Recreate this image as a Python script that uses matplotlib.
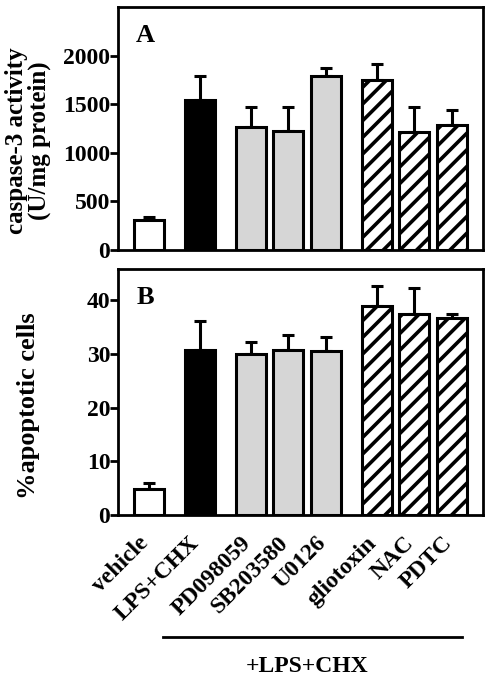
import numpy as np
import matplotlib
matplotlib.use("Agg")
import matplotlib.pyplot as plt
import matplotlib.transforms as mtransforms
from matplotlib.lines import Line2D

plt.rcParams['font.family'] = ['Liberation Serif', 'DejaVu Serif']
plt.rcParams['font.weight'] = 'bold'
plt.rcParams['hatch.linewidth'] = 2.6

# data
labels = ['vehicle', 'LPS+CHX', 'PD098059', 'SB203580', 'U0126',
          'gliotoxin', 'NAC', 'PDTC']
caspase = [310, 1545, 1270, 1225, 1785, 1752, 1212, 1290]
caspase_err = [30, 240, 200, 245, 85, 165, 258, 153]
apoptotic = [4.85, 30.8, 29.95, 30.8, 30.5, 38.9, 37.4, 36.65]
apoptotic_err = [1.05, 5.3, 2.3, 2.75, 2.7, 3.8, 4.8, 0.85]
group_label = '+LPS+CHX'

# bar group positions (three groups with wider gaps between)
xpos = np.array([0, 1.35, 2.72, 3.71, 4.72, 6.07, 7.07, 8.08])
colors = ['white', 'black', '#d6d6d6', '#d6d6d6', '#d6d6d6',
          'white', 'white', 'white']
hatches = ['', '', '', '', '', '//', '//', '//']

W, H = 489, 680
fig = plt.figure(figsize=(W / 100, H / 100), dpi=100)


def px_axes(left, top, right, bottom):
    return fig.add_axes([left / W, 1 - bottom / H, (right - left) / W,
                         (bottom - top) / H])


def draw_panel(ax, vals, errs, ylim, yticks, letter):
    n = len(vals)
    for i in range(n):
        ax.bar(xpos[i], vals[i], width=0.8, color=colors[i],
               edgecolor='black', linewidth=2.2, hatch=hatches[i], zorder=2)
    ax.errorbar(xpos, vals, yerr=[np.zeros(n), errs], fmt='none',
                ecolor='black', elinewidth=2.2, capsize=4.5, capthick=2.2,
                zorder=1)
    ax.set_xlim(-0.83, 8.9)
    ax.set_ylim(*ylim)
    ax.set_yticks(yticks)
    for s in ax.spines.values():
        s.set_linewidth(2)
    ax.tick_params(axis='y', direction='out', length=5.5, width=2,
                   labelsize=17, pad=0)
    ax.tick_params(axis='x', length=0)
    ax.text(0.05, 0.93, letter, transform=ax.transAxes, ha='left',
            va='top', fontsize=19, fontweight='bold')


axA = px_axes(118, 7, 483, 250)
draw_panel(axA, caspase, caspase_err, (0, 2500), [0, 500, 1000, 1500, 2000], 'A')
axA.set_xticks([])

axB = px_axes(118, 269, 483, 515)
draw_panel(axB, apoptotic, apoptotic_err, (0, 45.8), [0, 10, 20, 30, 40], 'B')
axB.set_xticks(xpos)
axB.set_xticklabels(labels, rotation=45, ha='right', va='top',
                    rotation_mode='anchor', fontsize=17)
axB.tick_params(axis='x', pad=6)
shift = mtransforms.ScaledTranslation(-0.11, -0.09, fig.dpi_scale_trans)
for lab in axB.get_xticklabels():
    lab.set_transform(lab.get_transform() + shift)

fig.text(28 / W, 1 - 141 / H, 'caspase-3 activity\n(U/mg protein)',
         rotation=90, ha='center', va='center', fontsize=18,
         linespacing=1.0)
fig.text(29 / W, 1 - 406 / H, '%apoptotic cells', rotation=90,
         ha='center', va='center', fontsize=19)

fig.add_artist(Line2D([163 / W, 462 / W], [1 - 637 / H, 1 - 637 / H],
                      color='black', linewidth=2))
fig.text(307 / W, 1 - 666 / H, group_label, ha='center', va='center',
         fontsize=17)

fig.savefig('out.png', dpi=100)
